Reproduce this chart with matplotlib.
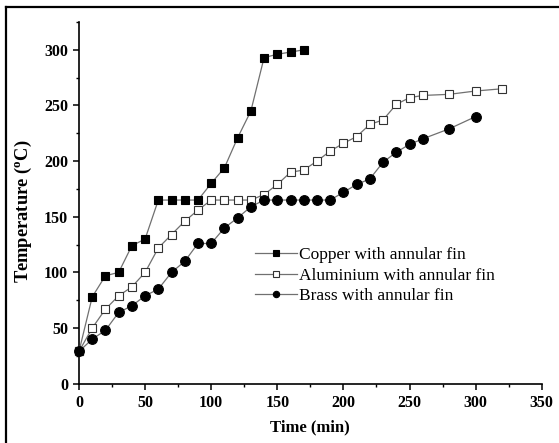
import matplotlib
matplotlib.use("Agg")
import matplotlib.pyplot as plt
from matplotlib.lines import Line2D
from matplotlib.ticker import MultipleLocator

# Data
copper_t = [0, 10, 20, 30, 40, 50, 60, 70, 80, 90, 100, 110, 120, 130, 140, 150, 160, 170]
copper_T = [29, 78, 97, 100, 124, 130, 165, 165, 165, 165, 180, 194, 221, 245, 293, 296, 298, 300]

alu_t = [0, 10, 20, 30, 40, 50, 60, 70, 80, 90, 100, 110, 120, 130, 140, 150, 160, 170,
         180, 190, 200, 210, 220, 230, 240, 250, 260, 280, 300, 320]
alu_T = [29, 50, 67, 79, 87, 100, 122, 134, 146, 156, 165, 165, 165, 165, 170, 179, 190, 192,
         200, 209, 216, 222, 233, 237, 251, 257, 259, 260, 263, 265]

brass_t = [0, 10, 20, 30, 40, 50, 60, 70, 80, 90, 100, 110, 120, 130, 140, 150, 160, 170,
           180, 190, 200, 210, 220, 230, 240, 250, 260, 280, 300]
brass_T = [29, 40, 48, 64, 70, 79, 85, 100, 110, 126, 126, 140, 149, 159, 165, 165, 165, 165,
           165, 165, 172, 179, 184, 199, 208, 215, 220, 229, 240]

labels = ["Copper with annular fin", "Aluminium with annular fin", "Brass with annular fin"]
x_label = "Time (min)"
y_label = r"Temperature ($^{\mathregular{o}}$C)"

W, H = 559, 443
fig = plt.figure(figsize=(W / 100, H / 100), dpi=100)
ax = fig.add_axes([79 / W, 1 - 383.7 / H, (541.7 - 79) / W, (383.7 - 22) / H])

line_col = "#707070"
common = dict(color=line_col, lw=0.9, clip_on=False, zorder=3)
ax.plot(copper_t, copper_T, marker="s", ms=6, mfc="black", mec="black", mew=0.8,
        label=labels[0], **common)
ax.plot(alu_t, alu_T, marker="s", ms=5.6, mfc="white", mec="#333333", mew=0.8,
        label=labels[1], **common)
ax.plot(brass_t, brass_T, marker="o", ms=7, mfc="black", mec="black", mew=0.8,
        label=labels[2], **common)

ax.set_xlim(0, 350)
ax.set_ylim(0, 325)
ax.xaxis.set_major_locator(MultipleLocator(50))
ax.xaxis.set_minor_locator(MultipleLocator(25))
ax.yaxis.set_major_locator(MultipleLocator(50))
ax.yaxis.set_minor_locator(MultipleLocator(25))

for s in ["top", "right"]:
    ax.spines[s].set_visible(False)
for s in ["left", "bottom"]:
    ax.spines[s].set_linewidth(1.2)

ax.tick_params(which="major", direction="out", length=4, width=1.1, pad=4)
ax.tick_params(which="minor", direction="out", length=2.2, width=1.0)
for lab in ax.get_xticklabels() + ax.get_yticklabels():
    lab.set_fontfamily("Liberation Serif")
    lab.set_fontweight("bold")
    lab.set_fontsize(11.5)

ax.set_xlabel(x_label, fontfamily="Liberation Serif", fontweight="bold", fontsize=12, labelpad=6)
ax.set_ylabel(y_label, fontfamily="Liberation Serif", fontweight="bold", fontsize=13.3)
ax.yaxis.set_label_coords(-0.097, 0.4755)

leg = ax.legend(loc="upper left", bbox_to_anchor=(255 / W, 1 - 247 / H),
                bbox_transform=fig.transFigure, frameon=False, borderpad=0,
                borderaxespad=0, markerscale=0.65,
                handlelength=2.4, handletextpad=0.15, labelspacing=0.25,
                prop=dict(family="Liberation Serif", size=12.5))

# figure frame (left and top edges visible)
fig.add_artist(Line2D([6 / W, 6 / W], [0, 1 - 6.5 / H], transform=fig.transFigure,
                      color="black", lw=1.6))
fig.add_artist(Line2D([6 / W, 1], [1 - 6.5 / H, 1 - 6.5 / H], transform=fig.transFigure,
                      color="black", lw=1.6))

fig.savefig("out.png", dpi=100)
